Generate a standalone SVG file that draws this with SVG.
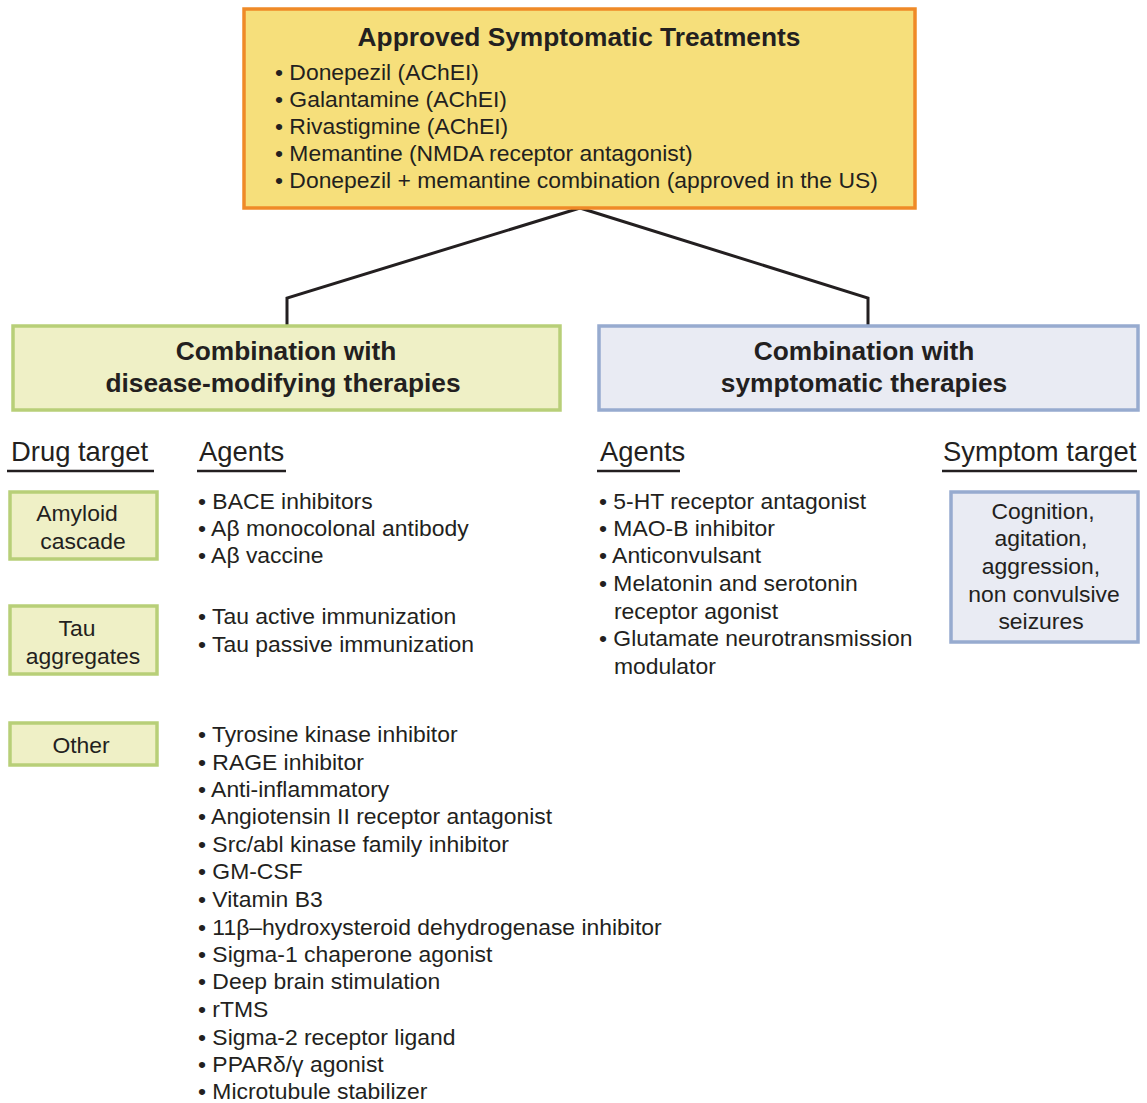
<svg xmlns="http://www.w3.org/2000/svg" width="1147" height="1103" viewBox="0 0 1147 1103">
<style>
text{font-family:"Liberation Sans",Arial,sans-serif;fill:#231f20;}
.t{font-size:22.9px;}
.b{font-size:26.3px;font-weight:bold;}
.h{font-size:27.4px;}
.c{text-anchor:middle;}
.g{fill:#eff0c6;stroke:#b8cf78;stroke-width:3.5;}
.bl{fill:#e9ebf3;stroke:#97abcf;stroke-width:3.5;}
.ul{stroke:#231f20;stroke-width:2.5;}
</style>
<rect width="1147" height="1103" fill="#ffffff"/>
<g id="connectors" fill="none" stroke="#231f20" stroke-width="3">
<polyline points="580,208 287,298 287,325"/>
<polyline points="580,208 868,298 868,325"/>
</g>
<g id="approved">
<rect x="244" y="9" width="671" height="199" fill="#f6df7b" stroke="#ef8a27" stroke-width="3.5"/>
<text class="b c" x="579" y="46">Approved Symptomatic Treatments</text>
<text class="t" x="275" y="80">• Donepezil (AChEI)</text>
<text class="t" x="275" y="107">• Galantamine (AChEI)</text>
<text class="t" x="275" y="134">• Rivastigmine (AChEI)</text>
<text class="t" x="275" y="161">• Memantine (NMDA receptor antagonist)</text>
<text class="t" x="275" y="188">• Donepezil + memantine combination (approved in the US)</text>
</g>
<g id="disease-modifying">
<rect class="g" x="13" y="326" width="547" height="84"/>
<text class="b c" x="286" y="360">Combination with</text>
<text class="b c" x="283" y="392">disease-modifying therapies</text>
</g>
<g id="symptomatic">
<rect class="bl" x="599" y="326" width="539" height="84"/>
<text class="b c" x="864" y="360">Combination with</text>
<text class="b c" x="864" y="392">symptomatic therapies</text>
</g>
<g id="headers">
<text class="h" x="11" y="461">Drug target</text>
<line class="ul" x1="7" y1="471" x2="154" y2="471"/>
<text class="h" x="199" y="461">Agents</text>
<line class="ul" x1="197" y1="471" x2="286" y2="471"/>
<text class="h" x="600" y="461">Agents</text>
<line class="ul" x1="597" y1="471" x2="680" y2="471"/>
<text class="h" x="943" y="461">Symptom target</text>
<line class="ul" x1="942" y1="471" x2="1137" y2="471"/>
</g>
<g id="amyloid">
<rect class="g" x="10" y="492" width="147" height="67"/>
<text class="t c" x="77" y="521">Amyloid</text>
<text class="t c" x="83" y="549">cascade</text>
</g>
<g id="tau">
<rect class="g" x="10" y="606" width="147" height="68"/>
<text class="t c" x="77" y="636">Tau</text>
<text class="t c" x="83" y="664">aggregates</text>
</g>
<g id="other">
<rect class="g" x="10" y="723" width="147" height="42"/>
<text class="t c" x="81" y="753">Other</text>
</g>
<g id="symptom-target">
<rect class="bl" x="951" y="492" width="187" height="150"/>
<text class="t c" x="1043" y="519">Cognition,</text>
<text class="t c" x="1041" y="546">agitation,</text>
<text class="t c" x="1041" y="574">aggression,</text>
<text class="t c" x="1044" y="602">non convulsive</text>
<text class="t c" x="1041" y="629">seizures</text>
</g>
<g id="amyloid-agents">
<text class="t" x="198" y="509">• BACE inhibitors</text>
<text class="t" x="198" y="536">• Aβ monocolonal antibody</text>
<text class="t" x="198" y="563">• Aβ vaccine</text>
</g>
<g id="tau-agents">
<text class="t" x="198" y="624">• Tau active immunization</text>
<text class="t" x="198" y="652">• Tau passive immunization</text>
</g>
<g id="other-agents">
<text class="t" x="198" y="742">• Tyrosine kinase inhibitor</text>
<text class="t" x="198" y="770">• RAGE inhibitor</text>
<text class="t" x="198" y="797">• Anti-inflammatory</text>
<text class="t" x="198" y="824">• Angiotensin II receptor antagonist</text>
<text class="t" x="198" y="852">• Src/abl kinase family inhibitor</text>
<text class="t" x="198" y="879">• GM-CSF</text>
<text class="t" x="198" y="907">• Vitamin B3</text>
<text class="t" x="198" y="935">• 11β–hydroxysteroid dehydrogenase inhibitor</text>
<text class="t" x="198" y="962">• Sigma-1 chaperone agonist</text>
<text class="t" x="198" y="989">• Deep brain stimulation</text>
<text class="t" x="198" y="1017">• rTMS</text>
<text class="t" x="198" y="1045">• Sigma-2 receptor ligand</text>
<text class="t" x="198" y="1072">• PPARδ/γ agonist</text>
<text class="t" x="198" y="1099">• Microtubule stabilizer</text>
</g>
<g id="symptomatic-agents">
<text class="t" x="599" y="509">• 5-HT receptor antagonist</text>
<text class="t" x="599" y="536">• MAO-B inhibitor</text>
<text class="t" x="599" y="563">• Anticonvulsant</text>
<text class="t" x="599" y="591">• Melatonin and serotonin</text>
<text class="t" x="614" y="619">receptor agonist</text>
<text class="t" x="599" y="646">• Glutamate neurotransmission</text>
<text class="t" x="614" y="674">modulator</text>
</g>
</svg>
